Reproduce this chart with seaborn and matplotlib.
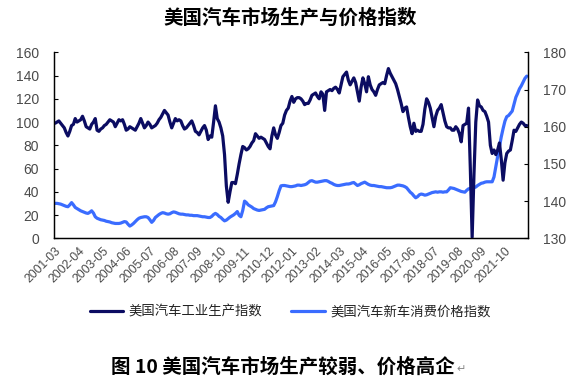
import numpy as np
import pandas as pd
import matplotlib
matplotlib.use("Agg")
import matplotlib.pyplot as plt
import seaborn as sns

# ---------------- data ----------------
start_month = "2001-03"
n_months = 260

production = [
    99, 100, 101, 99, 97, 95, 91, 88, 92, 97, 98, 103, 100,
    101, 102, 105, 101, 96, 95, 94, 98, 100, 103, 93, 92, 94,
    95, 97, 98, 100, 102, 101, 100, 96, 99, 102, 101, 102, 98,
    93, 94, 96, 95, 94, 93, 96, 99, 103, 99, 95, 97, 100,
    98, 95, 96, 97, 99, 102, 104, 107, 110, 108, 106, 100, 95,
    99, 103, 101, 102, 101, 97, 94, 95, 97, 99, 101, 97, 92,
    91, 89, 92, 95, 97, 93, 85, 88, 87, 100, 114, 103, 100,
    95, 88, 72, 45, 31, 40, 48, 48, 47, 55, 64, 72, 79,
    78, 76, 77, 79, 82, 84, 90, 88, 86, 87, 86, 85, 82,
    79, 77, 88, 95, 89, 86, 91, 97, 99, 106, 110, 112, 118,
    122, 117, 120, 121, 121, 120, 118, 115, 116, 116, 119, 123, 124,
    125, 122, 120, 126, 124, 110, 126, 127, 128, 127, 129, 130, 128,
    125, 132, 139, 141, 143, 136, 132, 135, 138, 134, 126, 118, 130,
    138, 133, 126, 139, 132, 128, 126, 123, 128, 132, 133, 134, 133,
    140, 146, 142, 139, 136, 133, 128, 122, 116, 109, 112, 113, 104,
    96, 90, 99, 92, 93, 92, 92, 98, 111, 120, 117, 112, 104,
    96, 105, 110, 112, 115, 108, 101, 96, 95, 95, 93, 93, 96,
    94, 90, 83, 97, 98, 99, 112, 60, 1, 55, 100, 119, 114,
    113, 110, 109, 105, 100, 80, 73, 76, 72, 76, 82, 68, 50,
    65, 73, 75, 76, 84, 93, 92, 95, 98, 100, 99, 97, 97,
]

price = [
    139.4, 139.4, 139.3, 139.2, 139.0, 138.8, 138.6, 138.5, 139.0, 139.6, 139.0, 138.3, 138.0,
    137.7, 137.4, 137.2, 137.0, 136.8, 136.7, 137.0, 137.4, 136.8, 135.8, 135.4, 135.2, 135.0,
    134.9, 134.8, 134.6, 134.5, 134.4, 134.2, 134.1, 134.0, 134.0, 134.0, 134.1, 134.3, 134.5,
    134.4, 133.8, 133.3, 133.6, 134.0, 134.5, 135.0, 135.4, 135.6, 135.7, 135.8, 135.8, 135.6,
    135.0, 134.3, 134.8, 135.6, 136.0, 136.4, 136.7, 136.9, 136.8, 136.6, 136.5, 136.6, 136.9,
    137.1, 137.0, 136.8, 136.6, 136.5, 136.5, 136.4, 136.3, 136.3, 136.2, 136.2, 136.1, 136.1,
    136.1, 136.0, 135.9, 135.8, 135.8, 135.7, 135.6, 135.6, 135.9, 136.4, 136.7, 136.4, 135.9,
    135.6, 135.1, 134.7, 134.9, 135.3, 135.7, 136.0, 136.3, 136.7, 137.2, 136.2, 135.8, 137.5,
    140.0, 139.6, 139.0, 138.7, 138.4, 138.0, 137.8, 137.6, 137.5, 137.6, 137.7, 137.8, 138.2,
    138.5, 138.6, 138.7, 138.8, 139.8, 141.2, 142.8, 144.1, 144.2, 144.2, 144.1, 144.0, 143.9,
    143.9, 144.0, 144.1, 144.3, 144.3, 144.2, 144.3, 144.4, 144.6, 145.0, 145.4, 145.5, 145.3,
    145.1, 145.1, 145.2, 145.3, 145.4, 145.5, 145.5, 145.3, 145.0, 144.8, 144.5, 144.3, 144.2,
    144.2, 144.3, 144.4, 144.5, 144.6, 144.6, 144.7, 144.9, 145.0, 144.6, 144.2, 144.4, 144.7,
    144.9, 145.1, 144.8, 144.5, 144.3, 144.2, 144.2, 144.1, 144.0, 143.9, 143.9, 143.8, 143.7,
    143.6, 143.6, 143.6, 143.7, 143.9, 144.1, 144.3, 144.3, 144.2, 144.1, 143.9, 143.6, 143.0,
    142.4, 142.0, 141.4, 140.9, 141.2, 141.7, 141.9, 141.8, 141.6, 141.7, 141.9, 142.1, 142.3,
    142.4, 142.5, 142.4, 142.5, 142.5, 142.4, 142.5, 142.5, 143.0, 143.6, 143.5, 143.4, 143.2,
    143.0, 142.8, 142.6, 142.5, 142.4, 142.9, 143.3, 143.4, 143.5, 143.6, 143.8, 144.2, 144.5,
    144.8, 144.9, 145.1, 145.2, 145.2, 145.2, 145.2, 146.5, 149.3, 152.0, 154.7, 157.3, 159.5,
    161.5, 162.7, 163.0, 163.6, 164.2, 166.0, 167.9, 169.0, 170.2, 171.0, 172.0, 173.0, 173.6,
]

series_names = ["美国汽车工业生产指数", "美国汽车新车消费价格指数"]
title_text = "美国汽车市场生产与价格指数"
caption_text = "图 10 美国汽车市场生产较弱、价格高企"

assert len(production) == n_months and len(price) == n_months

months = pd.period_range(start_month, periods=n_months, freq="M").strftime("%Y-%m")
df = pd.DataFrame({"idx": np.arange(n_months), "month": months,
                   "production": production, "price": price})

# ---------------- style ----------------
sns.set_style("white")
plt.rcParams["font.family"] = ["Noto Sans CJK SC", "DejaVu Sans"]
plt.rcParams["axes.unicode_minus"] = False

dark = "#0b0c62"
blue = "#3a6cff"
tick_color = "#4a4a4a"
num_font = ["Liberation Sans", "DejaVu Sans"]

fig = plt.figure(figsize=(5.8, 3.92), dpi=100)
ax = fig.add_axes([0.0936, 0.392, 0.8162, 0.4746])
ax2 = ax.twinx()

sns.lineplot(data=df, x="idx", y="production", ax=ax, color=dark, linewidth=2.3,
             label=series_names[0], legend=False)
sns.lineplot(data=df, x="idx", y="price", ax=ax2, color=blue, linewidth=2.3,
             label=series_names[1], legend=False)

ax.set_xlim(-0.5, n_months - 0.5)
ax.set_ylim(0, 160)
ax2.set_ylim(130, 180)
ax.set_yticks(np.arange(0, 161, 20))
ax2.set_yticks(np.arange(130, 181, 10))

label_pos = np.arange(0, n_months - 1, 13)
ax.set_xticks(label_pos)
ax.set_xticklabels([months[i] for i in label_pos], rotation=45, ha="right",
                   rotation_mode="anchor", fontsize=8.8, color=tick_color,
                   family=num_font)
ax.set_xticks(np.arange(-0.5, n_months, 13), minor=True)
ax.tick_params(axis="x", which="major", length=0, pad=5)
ax.tick_params(axis="x", which="minor", direction="in", length=3, width=0.8, color="black")

for a in (ax, ax2):
    a.tick_params(axis="y", direction="in", length=3, width=0.8, labelsize=10,
                  labelcolor=tick_color, color="black", pad=11)
    for lab in a.get_yticklabels():
        lab.set_family(num_font)
    a.set_xlabel("")
    a.set_ylabel("")
    a.grid(False)
    for side in ("left", "right", "bottom"):
        a.spines[side].set_visible(True)
        a.spines[side].set_color("black")
        a.spines[side].set_linewidth(0.9)
    a.spines["top"].set_visible(False)

ax.set_zorder(ax2.get_zorder() + 1)
ax.patch.set_visible(False)

fig.text(0.5, 0.953, title_text, ha="center", va="center", fontsize=14,
         fontweight="bold", color="black")

h1, l1 = ax.get_legend_handles_labels()
h2, l2 = ax2.get_legend_handles_labels()
fig.legend(h1 + h2, l1 + l2, loc="center", bbox_to_anchor=(0.5, 0.204), ncol=2,
           frameon=False, fontsize=9.6, handlelength=2.5, columnspacing=2.2,
           handletextpad=0.4, labelcolor="#222222")

cap = fig.text(0.488, 0.064, caption_text, ha="center", va="center", fontsize=14,
               fontweight="bold", color="black")
fig.canvas.draw()
bb = cap.get_window_extent(renderer=fig.canvas.get_renderer())
fig.text(bb.x1 / fig.bbox.width + 0.002, 0.058, "↵", ha="left", va="center",
         fontsize=8, color="#888888", family=["DejaVu Sans"])

fig.savefig("out.png", dpi=100)
